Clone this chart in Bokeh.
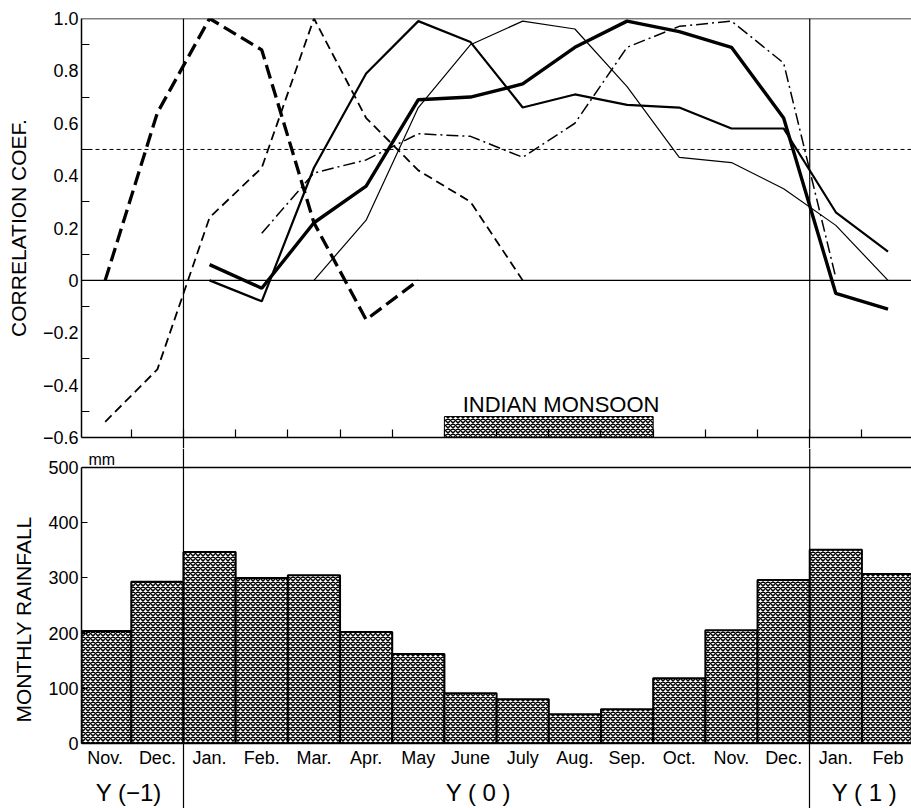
from bokeh.plotting import figure
from bokeh.layouts import column
from bokeh.models import Range1d, FixedTicker, CustomJSTickFormatter, Span, LinearAxis, Title
from bokeh.core.properties import value
from bokeh.embed import file_html
from bokeh.resources import INLINE

FONT = "Liberation Sans"

# ---------------- data ----------------
month_labels = ["Nov.", "Dec.", "Jan.", "Feb.", "Mar.", "Apr.", "May", "June",
                "July", "Aug.", "Sep.", "Oct.", "Nov.", "Dec.", "Jan.", "Feb"]
rainfall_mm = [204, 293, 347, 300, 305, 202, 162, 91, 80, 53, 62, 118, 205, 296, 351, 307]

year_labels = ["Y (\u22121)", "Y ( 0 )", "Y ( 1 )"]
year_label_pos = [0.95, 7.65, 15.05]
year_boundaries = [2, 14]

corr_ticks = [-0.6, -0.4, -0.2, 0.0, 0.2, 0.4, 0.6, 0.8, 1.0]
corr_minor = [-0.5, -0.3, -0.1, 0.1, 0.3, 0.5, 0.7, 0.9]
rain_ticks = [0, 100, 200, 300, 400, 500]

# correlation curves (first month index, values)
corr_a_start = 0   # heavy long dashes
corr_a = [0.0, 0.64, 1.0, 0.88, 0.22, -0.15, 0.0]
corr_b_start = 0   # thin dashes
corr_b = [-0.54, -0.34, 0.24, 0.43, 1.0, 0.62, 0.42, 0.30, 0.0]
corr_c_start = 2   # medium solid
corr_c = [0.0, -0.08, 0.43, 0.79, 0.99, 0.91, 0.66, 0.71, 0.67, 0.66, 0.58, 0.58, 0.26, 0.11]
corr_d_start = 2   # heavy solid
corr_d = [0.06, -0.03, 0.22, 0.36, 0.69, 0.70, 0.75, 0.89, 0.99, 0.95, 0.89, 0.62, -0.05, -0.11]
corr_e_start = 4   # thin solid
corr_e = [0.0, 0.23, 0.66, 0.90, 0.99, 0.96, 0.74, 0.47, 0.45, 0.35, 0.21, 0.0]
corr_f_start = 3   # dash-dot
corr_f = [0.18, 0.41, 0.46, 0.56, 0.55, 0.47, 0.60, 0.89, 0.97, 0.99, 0.83, 0.01]

monsoon_label = "INDIAN MONSOON"
monsoon_first_month = 7   # June
monsoon_last_month = 10   # Sep.
monsoon_top = -0.52
significance_level = 0.5
unit_label = "mm"
corr_title = "CORRELATION COEF."
rain_title = "MONTHLY RAINFALL"

# ---------------- layout ----------------
W = 911
LEFT = 81
XR = (0.046, 15.95)
GAP = 11
HATCH = dict(fill_color="white", hatch_pattern="x", hatch_scale=5, hatch_weight=1.5,
             hatch_color="black")


def centers(start, n):
    return [start + i + 0.5 for i in range(n)]


# ---------------- top panel ----------------
p1 = figure(width=W, height=18 + 419 + GAP, x_range=Range1d(*XR), y_range=Range1d(-0.6, 1.0),
            output_backend="svg", toolbar_location=None,
            min_border_left=LEFT, min_border_right=0, min_border_top=18, min_border_bottom=GAP,
            outline_line_color=None, background_fill_color="white", border_fill_color="white")
p1.grid.visible = False

ya = p1.yaxis[0]
ya.ticker = FixedTicker(ticks=corr_ticks, minor_ticks=corr_minor)
ya.formatter = CustomJSTickFormatter(
    code="return Math.abs(tick) < 1e-9 ? '0' : tick.toFixed(1).replace('-', '\\u2212')")
ya.axis_line_width = 1.5
ya.major_tick_in = 0
ya.major_tick_out = 0
ya.minor_tick_in = 8
ya.minor_tick_out = 0
ya.minor_tick_line_width = 1.2
ya.major_label_standoff = 3
ya.major_label_text_font = FONT
ya.major_label_text_font_size = "18px"
ya.major_label_text_color = "black"
ya.axis_label = corr_title
ya.axis_label_text_font = FONT
ya.axis_label_text_font_size = "21px"
ya.axis_label_text_font_style = "normal"
ya.axis_label_text_color = "black"
ya.axis_label_standoff = 10

xa = p1.xaxis[0]
xa.ticker = FixedTicker(ticks=list(range(1, 16)), minor_ticks=year_boundaries)
xa.formatter = CustomJSTickFormatter(code="return ''")
xa.major_label_text_font_size = "1px"
xa.major_label_standoff = -GAP
xa.axis_line_width = 1.5
xa.major_tick_in = 8
xa.major_tick_out = 0
xa.major_tick_line_width = 1.2
xa.minor_tick_in = 0
xa.minor_tick_out = GAP
xa.minor_tick_line_width = 1.2

p1.add_layout(Span(location=1.0, dimension="width", line_color="black", line_width=1.5))
p1.add_layout(Span(location=0.0, dimension="width", line_color="black", line_width=1.2))
p1.add_layout(Span(location=significance_level, dimension="width", line_color="black",
                   line_width=1, line_dash="4 3"))
for b in year_boundaries:
    p1.add_layout(Span(location=b, dimension="height", line_color="black", line_width=1.2))

p1.quad(left=[monsoon_first_month], right=[monsoon_last_month + 1], bottom=[-0.6],
        top=[monsoon_top], line_color="black", line_width=1, **HATCH)
p1.text(x=[monsoon_first_month + 0.35], y=[monsoon_top], text=[monsoon_label],
        text_font=value(FONT), text_font_size=value("22px"), text_color="black",
        text_align="left", text_baseline="bottom")

p1.line(centers(corr_b_start, len(corr_b)), corr_b, line_color="black", line_width=1.8,
        line_dash="9 5")
p1.line(centers(corr_a_start, len(corr_a)), corr_a, line_color="black", line_width=3.3,
        line_dash="14 6")
p1.line(centers(corr_f_start, len(corr_f)), corr_f, line_color="black", line_width=1.5,
        line_dash="12 4 2 4")
p1.line(centers(corr_e_start, len(corr_e)), corr_e, line_color="black", line_width=1.2)
p1.line(centers(corr_c_start, len(corr_c)), corr_c, line_color="black", line_width=2.2)
p1.line(centers(corr_d_start, len(corr_d)), corr_d, line_color="black", line_width=3.4)

# ---------------- bottom panel ----------------
top2 = 18 + 419 + GAP                 # page y of the bottom frame's top
px_per_mm = (743 - 467) / 500.0
p2 = figure(width=W, height=808 - top2, x_range=p1.x_range,
            y_range=Range1d(0, 500 + (467 - top2) / px_per_mm),
            output_backend="svg", toolbar_location=None,
            min_border_left=LEFT, min_border_right=0, min_border_top=0, min_border_bottom=65,
            outline_line_color=None, background_fill_color="white", border_fill_color="white")
p2.grid.visible = False

yb = p2.yaxis[0]
yb.ticker = FixedTicker(ticks=rain_ticks)
yb.bounds = (0, 500)
yb.axis_line_width = 1.5
yb.major_tick_in = 6
yb.major_tick_out = 0
yb.major_tick_line_width = 1.2
yb.minor_tick_in = 0
yb.minor_tick_out = 0
yb.major_label_standoff = 3
yb.major_label_text_font = FONT
yb.major_label_text_font_size = "18px"
yb.major_label_text_color = "black"

p2.add_layout(Title(text=rain_title, align="left", offset=21, standoff=18,
                    vertical_align="top",
                    text_font=FONT, text_font_size="21px", text_font_style="normal",
                    text_color="black"), "left")

xb = p2.xaxis[0]
xb.ticker = FixedTicker(ticks=centers(0, len(month_labels)), minor_ticks=year_boundaries)
xb.formatter = CustomJSTickFormatter(args=dict(labels=month_labels),
                                     code="return labels[Math.floor(tick)]")
xb.axis_line_width = 1.5
xb.major_tick_in = 0
xb.major_tick_out = 0
xb.minor_tick_in = 0
xb.minor_tick_out = 66
xb.minor_tick_line_width = 1.2
xb.major_label_standoff = -62
xb.major_label_text_font = FONT
xb.major_label_text_font_size = "18px"
xb.major_label_text_color = "black"

yr_axis = LinearAxis(
    ticker=FixedTicker(ticks=year_label_pos),
    formatter=CustomJSTickFormatter(args=dict(pos=year_label_pos, labels=year_labels),
                                    code="return labels[pos.indexOf(tick)]"),
    axis_line_color=None, major_tick_line_color=None, minor_tick_line_color=None,
    major_label_text_font=FONT, major_label_text_font_size="24px",
    major_label_text_color="black", major_label_standoff=2)
p2.add_layout(yr_axis, "below")

p2.add_layout(Span(location=500, dimension="width", line_color="black", line_width=1.5))
for b in year_boundaries:
    p2.add_layout(Span(location=b, dimension="height", line_color="black", line_width=1.2))

p2.vbar(x=centers(0, len(rainfall_mm)), width=1.0, top=rainfall_mm, bottom=0,
        line_color="black", line_width=2, **HATCH)

p2.text(x=[0.18], y=[500], text=[unit_label], text_font=value(FONT),
        text_font_size=value("16px"), text_color="black", text_align="left",
        text_baseline="bottom")

layout = column(p1, p2, spacing=0)

open("out.html", "w").write(file_html(layout, INLINE))
